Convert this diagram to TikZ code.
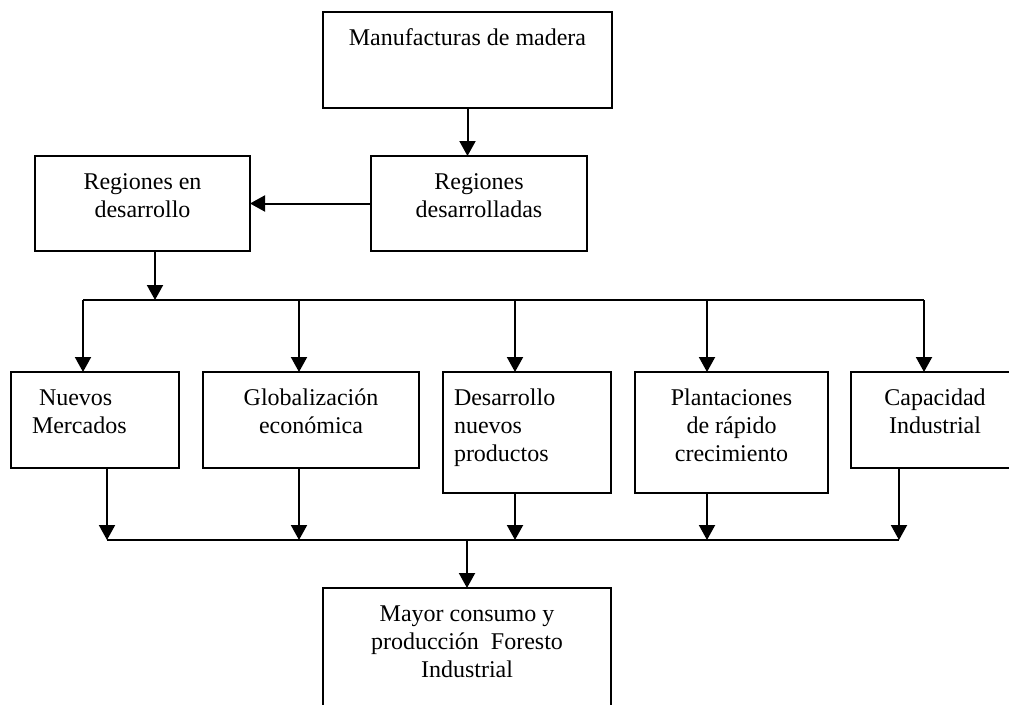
\documentclass[tikz,border=0pt]{standalone}
\usepackage{fontspec}
\setmainfont{Liberation Serif}
\usetikzlibrary{arrows.meta}
\begin{document}
\begin{tikzpicture}[x=1pt,y=-1pt,
  box/.style={draw, line width=2pt, inner sep=0pt, outer sep=0pt},
  lbl/.style={inner sep=0pt, outer sep=0pt, font=\fontsize{24}{28}\selectfont, align=center},
  lbll/.style={inner sep=0pt, outer sep=0pt, font=\fontsize{24}{28}\selectfont, align=left},
  arr/.style={line width=2pt, -{Triangle[width=16pt,length=15pt]}},
  bus/.style={line width=2pt}]
\useasboundingbox (0,0) rectangle (1009,704);
\clip (0,0) rectangle (1009,704);
% boxes
\node[box, minimum width=289pt, minimum height=96pt] (manu) at (467.5,60) {};
\node[box, minimum width=216pt, minimum height=95pt] (rd) at (479,203.5) {};
\node[box, minimum width=215pt, minimum height=95pt] (red) at (142.5,203.5) {};
\node[box, minimum width=168pt, minimum height=96pt] (nm) at (95,420) {};
\node[box, minimum width=216pt, minimum height=96pt] (ge) at (311,420) {};
\node[box, minimum width=168pt, minimum height=121pt] (dnp) at (527,432.5) {};
\node[box, minimum width=193pt, minimum height=121pt] (prc) at (731.5,432.5) {};
\node[box, minimum width=169pt, minimum height=96pt] (ci) at (935.5,420) {};
\node[box, minimum width=288pt, minimum height=132pt] (mayor) at (467,654) {};
% texts
\node[lbl, anchor=north] (manuT) at ([yshift=-13.4pt]manu.north) {\strut Manufacturas de madera};
\node[lbl, anchor=north] (rdT) at ([yshift=-13.4pt]rd.north) {\strut Regiones\\desarrolladas};
\node[lbl, anchor=north] (redT) at ([yshift=-13.4pt]red.north) {\strut Regiones en\\desarrollo};
\node[lbll, anchor=north west] (nmT) at (32,385.4) {\strut\hspace*{7pt}Nuevos\\Mercados};
\node[lbl, anchor=north] (geT) at ([yshift=-13.4pt]ge.north) {\strut Globalización\\económica};
\node[lbll, anchor=north west] (dnpT) at (454,385.4) {\strut Desarrollo\\nuevos\\productos};
\node[lbl, anchor=north] (prcT) at ([yshift=-13.4pt]prc.north) {\strut Plantaciones\\de rápido\\crecimiento};
\node[lbl, anchor=north] (ciT) at (935,385.4) {\strut Capacidad\\Industrial};
\node[lbl, anchor=north] (mayorT) at ([yshift=-13.4pt]mayor.north) {\strut Mayor consumo y\\producción\ \ Foresto\\Industrial};
% bus coordinates
\coordinate (tin) at (155,300);
\coordinate (t1) at (83,300);
\coordinate (t2) at (299,300);
\coordinate (t3) at (515,300);
\coordinate (t4) at (707,300);
\coordinate (t5) at (924,300);
\coordinate (b1) at (107,540);
\coordinate (b2) at (299,540);
\coordinate (b3) at (515,540);
\coordinate (b4) at (707,540);
\coordinate (b5) at (899,540);
\coordinate (bm) at (467,540);
% connectors top
\draw[arr] (manu.south) -- (manu.south |- rd.north);
\draw[arr] (rd.west) -- (rd.west -| red.east);
\draw[arr] (red.south -| tin) -- (tin);
\draw[bus] (t1) -- (t5);
\draw[arr] (t1) -- (t1 |- nm.north);
\draw[arr] (t2) -- (t2 |- ge.north);
\draw[arr] (t3) -- (t3 |- dnp.north);
\draw[arr] (t4) -- (t4 |- prc.north);
\draw[arr] (t5) -- (t5 |- ci.north);
% connectors bottom
\draw[arr] (b1 |- nm.south) -- (b1);
\draw[arr] (b2 |- ge.south) -- (b2);
\draw[arr] (b3 |- dnp.south) -- (b3);
\draw[arr] (b4 |- prc.south) -- (b4);
\draw[arr] (b5 |- ci.south) -- (b5);
\draw[bus] (b1) -- (b5);
\draw[arr] (bm) -- (bm |- mayor.north);
\end{tikzpicture}
\end{document}
